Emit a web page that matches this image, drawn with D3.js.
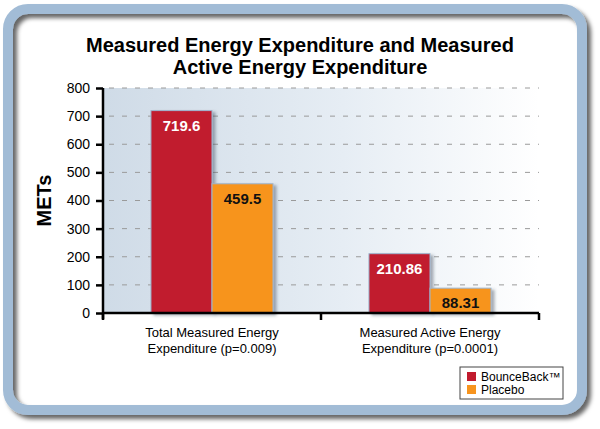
<!DOCTYPE html>
<html>
<head>
<meta charset="utf-8">
<script src="https://cdn.jsdelivr.net/npm/d3@7"></script>
<style>
  html, body { margin: 0; padding: 0; background: #fff; }
  svg { display: block; font-family: "Liberation Sans", Arial, sans-serif; }
</style>
</head>
<body>
<div id="chart"></div>
<script>
//Datos
const categories = ['Total Measured Energy|Expenditure (p=0.009)', 'Measured Active Energy|Expenditure (p=0.0001)'];
const seriesNames = ['BounceBack™', 'Placebo'];
const bounceBack = [719.6, 210.86];
const placebo = [459.5, 88.31];
const valueLabels = [['719.6', '210.86'], ['459.5', '88.31']];
const yTicks = [0, 100, 200, 300, 400, 500, 600, 700, 800];

//Colores
const COLOR_RED = '#c11b2e',
    COLOR_ORANGE = '#f7941e',
    COLOR_FRAME = '#a2bcd6';

const W = 600, H = 429;
const margin = {top: 88, right: 61, bottom: 116, left: 103};
const width = W - margin.left - margin.right,
    height = H - margin.top - margin.bottom;

let svgRoot = d3.select('#chart').append('svg')
    .attr('width', W)
    .attr('height', H);

let defs = svgRoot.append('defs');

let shadow = defs.append('filter').attr('id', 'shadow')
    .attr('x', '-10%').attr('y', '-10%').attr('width', '130%').attr('height', '130%');
shadow.append('feDropShadow')
    .attr('dx', 4).attr('dy', 4).attr('stdDeviation', 2)
    .attr('flood-color', '#000').attr('flood-opacity', 0.6);

let barShadow = defs.append('filter').attr('id', 'barShadow')
    .attr('x', '-10%').attr('y', '-10%').attr('width', '140%').attr('height', '130%');
barShadow.append('feDropShadow')
    .attr('dx', 3).attr('dy', 2).attr('stdDeviation', 1.5)
    .attr('flood-color', '#3a4a5a').attr('flood-opacity', 0.45);

let grad = defs.append('linearGradient').attr('id', 'bg')
    .attr('x1', '0%').attr('x2', '100%').attr('y1', '0%').attr('y2', '0%');
grad.append('stop').attr('offset', '0%').attr('stop-color', '#cfdbe7');
grad.append('stop').attr('offset', '55%').attr('stop-color', '#e6edf4');
grad.append('stop').attr('offset', '100%').attr('stop-color', '#ffffff');

//Marco
svgRoot.append('rect')
    .attr('x', 8).attr('y', 9)
    .attr('width', 574).attr('height', 401)
    .attr('rx', 20).attr('ry', 20)
    .attr('fill', 'none')
    .attr('stroke', COLOR_FRAME)
    .attr('stroke-width', 10)
    .attr('filter', 'url(#shadow)');

//Título
let title = svgRoot.append('text')
    .attr('text-anchor', 'middle')
    .attr('font-weight', 'bold')
    .attr('font-size', 20)
    .attr('fill', '#000');
title.append('tspan').attr('x', 300).attr('y', 52).text('Measured Energy Expenditure and Measured');
title.append('tspan').attr('x', 300).attr('y', 74).text('Active Energy Expenditure');

let svg = svgRoot.append('g')
    .attr('transform', 'translate(' + margin.left + ',' + margin.top + ')');

svg.append('rect')
    .attr('width', width).attr('height', height)
    .attr('fill', 'url(#bg)');

let x = d3.scaleBand()
    .domain(categories)
    .range([0, width])
    .paddingInner(0)
    .paddingOuter(0);

let x1 = d3.scaleBand()
    .domain(seriesNames)
    .range([x.bandwidth() * 0.22, x.bandwidth() * 0.78]);

let y = d3.scaleLinear()
    .domain([0, 800])
    .range([height, 0]);

//Líneas de rejilla
svg.append('g')
    .selectAll('line')
    .data(yTicks.filter(function(d) { return d > 0; }))
    .enter()
    .append('line')
    .attr('x1', 6).attr('x2', width)
    .attr('y1', function(d) { return y(d); })
    .attr('y2', function(d) { return y(d); })
    .attr('stroke', '#9a9a9a')
    .attr('stroke-width', 1)
    .attr('stroke-dasharray', '5 8');

//Barras
const series = [bounceBack, placebo];
const colors = [COLOR_RED, COLOR_ORANGE];
const labelColors = ['#fff', '#111'];

categories.forEach(function(cat, ci) {
    let g = svg.append('g').attr('transform', 'translate(' + x(cat) + ',0)');
    series.forEach(function(s, si) {
        g.append('rect')
            .attr('x', x1(seriesNames[si]))
            .attr('y', y(s[ci]))
            .attr('width', x1.bandwidth())
            .attr('height', height - y(s[ci]))
            .attr('fill', colors[si])
            .attr('stroke', '#9db5cf')
            .attr('stroke-width', 1)
            .attr('filter', 'url(#barShadow)');
    });
    series.forEach(function(s, si) {
        g.append('text')
            .attr('x', x1(seriesNames[si]) + x1.bandwidth() / 2)
            .attr('y', y(s[ci]) + 20)
            .attr('text-anchor', 'middle')
            .attr('font-weight', 'bold')
            .attr('font-size', 15)
            .attr('fill', labelColors[si])
            .text(valueLabels[si][ci]);
    });
});

//Eje Y
let yAxis = svg.append('g')
    .call(d3.axisLeft(y).tickValues(yTicks).tickSize(7).tickPadding(6));
yAxis.select('.domain').attr('stroke', '#000').attr('stroke-width', 2.5)
    .attr('d', 'M0,' + (height + 6) + 'V0');
yAxis.selectAll('.tick line').attr('stroke', '#000').attr('stroke-width', 2.5);
yAxis.selectAll('.tick text').attr('font-size', 14).attr('fill', '#000')
    .attr('font-family', '"Liberation Sans", Arial, sans-serif');

//Eje X
let xAxis = svg.append('g')
    .attr('transform', 'translate(0,' + height + ')');
xAxis.append('line')
    .attr('x1', 0).attr('x2', width)
    .attr('stroke', '#000').attr('stroke-width', 2.5);
xAxis.selectAll('.xtick')
    .data([0, width / 2, width])
    .enter()
    .append('line')
    .attr('x1', function(d) { return d; })
    .attr('x2', function(d) { return d; })
    .attr('y1', 0).attr('y2', 7)
    .attr('stroke', '#000').attr('stroke-width', 2.5);

categories.forEach(function(cat) {
    let t = xAxis.append('text')
        .attr('text-anchor', 'middle')
        .attr('font-size', 13)
        .attr('fill', '#000');
    cat.split('|').forEach(function(line, i) {
        t.append('tspan')
            .attr('x', x(cat) + x.bandwidth() / 2)
            .attr('y', 24 + i * 16)
            .text(line);
    });
});

//Título eje Y
svgRoot.append('text')
    .attr('transform', 'translate(51,' + (margin.top + height / 2) + ') rotate(-90)')
    .attr('text-anchor', 'middle')
    .attr('font-weight', 'bold')
    .attr('font-size', 20)
    .text('METs');

//Leyenda
let legend = svgRoot.append('g').attr('transform', 'translate(460,367)');
legend.append('rect')
    .attr('width', 103).attr('height', 32)
    .attr('fill', '#fff')
    .attr('stroke', '#444').attr('stroke-width', 1);
seriesNames.forEach(function(name, i) {
    legend.append('rect')
        .attr('x', 7).attr('y', 5 + i * 13)
        .attr('width', 9).attr('height', 9)
        .attr('fill', colors[i]);
    legend.append('text')
        .attr('x', 21).attr('y', 13.5 + i * 13)
        .attr('font-size', 12)
        .text(name);
});
</script>
</body>
</html>
